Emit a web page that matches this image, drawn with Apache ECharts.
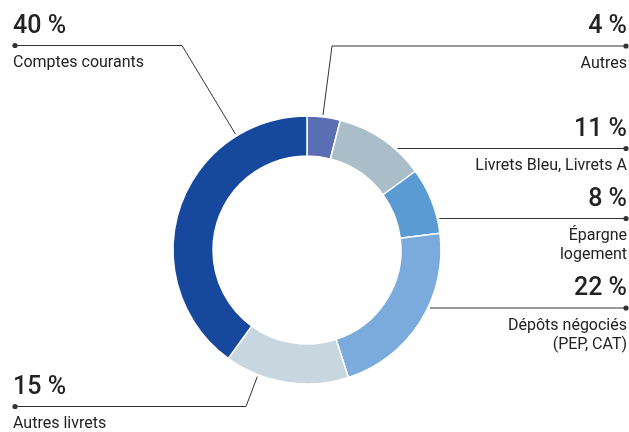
<!DOCTYPE html>
<html><head><meta charset="utf-8">
<script src="https://cdn.jsdelivr.net/npm/echarts@6/dist/echarts.min.js"></script>
<style>html,body{margin:0;padding:0;background:#fff}#c{width:629px;height:432px}</style>
</head><body><div id="c"></div>
<script>
// ---- data ----
var categories = ['Autres', 'Livrets Bleu, Livrets A', 'Épargne\nlogement', 'Dépôts négociés\n(PEP, CAT)', 'Autres livrets', 'Comptes courants'];
var shares = [4, 11, 8, 22, 15, 40];
var colors = ['#5b6db3', '#a9bec9', '#5a9bd3', '#7aabdc', '#c7d6df', '#16499d'];

// ---- label layout (positions only) ----
var labelLayout = [
  {side: 'right', lineY: 46,    elbowX: 332, frac: 0.47},
  {side: 'right', lineY: 148.5},
  {side: 'right', lineY: 218.5},
  {side: 'right', lineY: 308},
  {side: 'left',  lineY: 406.5, elbowX: 246, frac: 0.73},
  {side: 'left',  lineY: 45.5,  elbowX: 182, frac: 0.78}
];
var LEFT_X = 15, RIGHT_X = 626;
var FONT = 'Roboto, "Noto Sans", sans-serif';
var INK = '#222222', LINE = '#333333';

var chart = echarts.init(document.getElementById('c'), null, {renderer: 'canvas'});
chart.setOption({
  animation: false,
  backgroundColor: '#ffffff',
  series: [{
    type: 'pie',
    center: [307, 250],
    radius: [94, 134],
    startAngle: 90,
    clockwise: true,
    label: {show: false},
    labelLine: {show: false},
    emphasis: {disabled: true},
    itemStyle: {borderColor: '#ffffff', borderWidth: 1.5},
    data: categories.map(function (c, i) {
      return {name: c, value: shares[i], itemStyle: {color: colors[i]}};
    })
  }]
});

var data = chart.getModel().getSeriesByIndex(0).getData();
var total = shares.reduce(function (a, b) { return a + b; }, 0);
var acc = 0;
var elements = [];
labelLayout.forEach(function (L, i) {
  var lay = data.getItemLayout(i) || {};
  var cx = lay.cx != null ? lay.cx : 307, cy = lay.cy != null ? lay.cy : 250, r = (lay.r != null ? lay.r : 134) + 2;
  var sa = lay.startAngle != null ? lay.startAngle : (-Math.PI / 2 + acc / total * 2 * Math.PI);
  var ea = lay.endAngle != null ? lay.endAngle : (-Math.PI / 2 + (acc + shares[i]) / total * 2 * Math.PI);
  acc += shares[i];
  var endX = L.side === 'right' ? RIGHT_X : LEFT_X;
  var pts;
  if (L.elbowX != null) {
    var a = sa + L.frac * (ea - sa);
    var ax = cx + r * Math.cos(a), ay = cy + r * Math.sin(a);
    pts = [[ax, ay], [L.elbowX, L.lineY], [endX, L.lineY]];
  } else {
    var dy = L.lineY - cy;
    var dx = Math.sqrt(Math.max(0, r * r - dy * dy));
    var sx = L.side === 'right' ? cx + dx : cx - dx;
    pts = [[sx, L.lineY], [endX, L.lineY]];
  }
  elements.push({
    type: 'polyline', silent: true,
    shape: {points: pts},
    style: {stroke: LINE, lineWidth: 1, fill: null}
  });
  elements.push({
    type: 'circle', silent: true,
    shape: {cx: endX, cy: L.lineY, r: 2.6},
    style: {fill: LINE}
  });
  var align = L.side === 'right' ? 'right' : 'left';
  var tx = L.side === 'right' ? RIGHT_X + 1 : LEFT_X - 2;
  elements.push({
    type: 'text', silent: true,
    x: tx, y: L.lineY - 34,
    style: {
      text: shares[i] + ' %', font: '500 25px ' + FONT, fill: INK,
      align: align, verticalAlign: 'top', lineHeight: 30
    }
  });
  elements.push({
    type: 'text', silent: true,
    x: tx, y: L.lineY + 8,
    style: {
      text: categories[i], font: '16px ' + FONT, fill: INK,
      align: align, verticalAlign: 'top', lineHeight: 19
    }
  });
});
chart.setOption({graphic: {elements: elements}});
</script>
</body></html>
